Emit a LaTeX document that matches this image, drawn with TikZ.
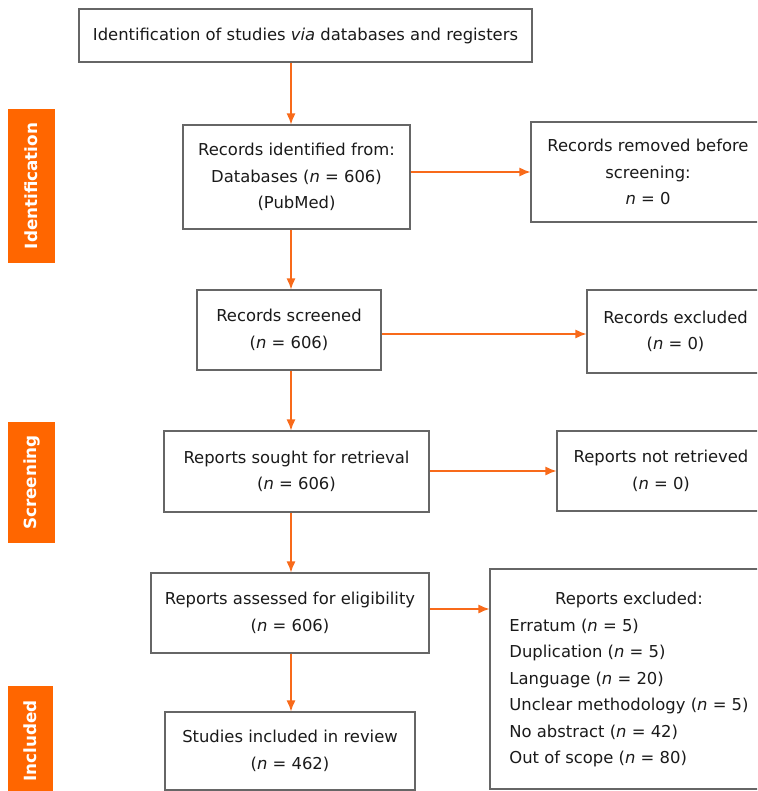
\documentclass[tikz,border=0pt]{standalone}
\usepackage{fontspec}
\setmainfont{DejaVu Sans}
\usetikzlibrary{arrows.meta}
\definecolor{orng}{HTML}{FF6600}
\definecolor{arrc}{HTML}{F86A1A}
\definecolor{boxc}{HTML}{666666}
\definecolor{txtc}{HTML}{1A1A1A}
\begin{document}
\begin{tikzpicture}[x=1pt,y=-1pt,
  box/.style={draw=boxc,line width=1.1pt,rectangle,inner sep=0pt,align=center,
    text=txtc,font=\fontsize{16.4}{26.5}\selectfont},
  side/.style={fill=orng,inner sep=0pt,text=white,rotate=90,
    font=\fontsize{16.8}{18}\selectfont\bfseries},
  arr/.style={draw=arrc,line width=1.3pt,-{Latex[length=11pt,width=9pt]}}]
\useasboundingbox (0,0) rectangle (757,791);
\clip (0,0) rectangle (757,791);
\coordinate (axis) at (291,0);
% main column
\node[box,minimum width=453pt,minimum height=53pt] (top) at (305.5,35.5)
  {Identification of studies \textit{via} databases and registers};
\node[box,minimum width=227pt,minimum height=104pt] (rid) at (296.5,177)
  {Records identified from:\\Databases (\textit{n} = 606)\\(PubMed)};
\node[box,minimum width=184pt,minimum height=80pt] (rsc) at (289,330)
  {Records screened\\(\textit{n} = 606)};
\node[box,minimum width=265pt,minimum height=81pt] (rso) at (296.5,471.5)
  {Reports sought for retrieval\\(\textit{n} = 606)};
\node[box,minimum width=278pt,minimum height=80pt] (ras) at (290,613)
  {Reports assessed for eligibility\\(\textit{n} = 606)};
\node[box,minimum width=250pt,minimum height=78pt] (sin) at (290,751)
  {Studies included in review\\(\textit{n} = 462)};
% right column
\node[box,minimum width=234pt,minimum height=100pt] (rrm) at (648,172)
  {Records removed before\\screening:\\\textit{n} = 0};
\node[box,minimum width=177pt,minimum height=83pt] (rex) at (675.5,331.5)
  {Records excluded\\(\textit{n} = 0)};
\node[box,minimum width=208pt,minimum height=80pt] (rnr) at (661,471)
  {Reports not retrieved\\(\textit{n} = 0)};
\node[box,minimum width=278pt,minimum height=220pt] (rexc) at (629,679)
  {\renewcommand{\arraystretch}{1}%
   \begin{tabular}{@{}l@{}}
   \multicolumn{1}{@{}c@{}}{Reports excluded:}\\
   Erratum (\textit{n} = 5)\\
   Duplication (\textit{n} = 5)\\
   Language (\textit{n} = 20)\\
   Unclear methodology (\textit{n} = 5)\\
   No abstract (\textit{n} = 42)\\
   Out of scope (\textit{n} = 80)
   \end{tabular}};
% side labels
\node[side,minimum width=154pt,minimum height=47pt] (lid) at (31.5,186) {Identification};
\node[side,minimum width=121pt,minimum height=47pt] (lsc) at (31.5,482.5) {Screening};
\node[side,minimum width=110pt,minimum height=45pt] (lin) at (30.5,741) {Included};
% vertical arrows
\draw[arr] (top.south -| axis) -- (rid.north -| axis);
\draw[arr] (rid.south -| axis) -- (rsc.north -| axis);
\draw[arr] (rsc.south -| axis) -- (rso.north -| axis);
\draw[arr] (rso.south -| axis) -- (ras.north -| axis);
\draw[arr] (ras.south -| axis) -- (sin.north -| axis);
% horizontal arrows
\draw[arr] (rid.east |- rrm.west) -- (rrm.west);
\draw[arr] ([yshift=-4pt]rsc.east) -- ([yshift=-4pt]rsc.east -| rex.west);
\draw[arr] (rso.east |- rnr.west) -- (rnr.west);
\draw[arr] ([yshift=4pt]ras.east) -- ([yshift=4pt]ras.east -| rexc.west);
\end{tikzpicture}
\end{document}
